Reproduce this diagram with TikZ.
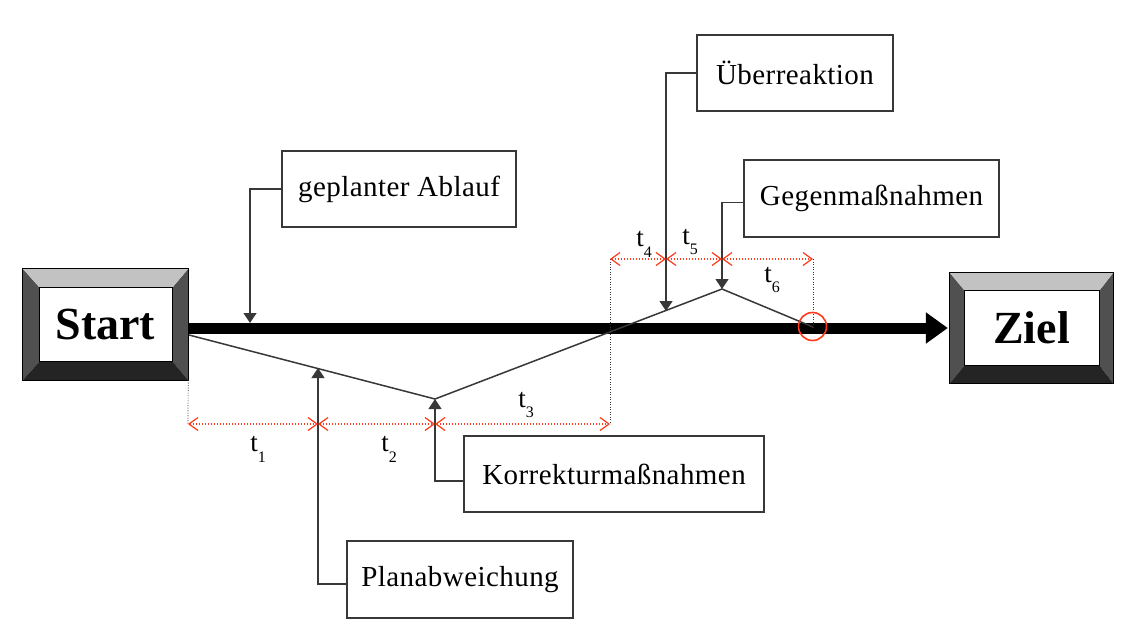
\documentclass[tikz,border=0pt]{standalone}
\usepackage{fontspec}
\setmainfont{Liberation Serif}
\newfontfamily\boxfont[LetterSpace=1.5]{Liberation Serif}
\usetikzlibrary{arrows.meta,calc}
\definecolor{redd}{HTML}{FF3A1A}
\definecolor{bevtopc}{HTML}{C2C2C2}
\definecolor{bevsidec}{HTML}{505050}
\definecolor{bevbotc}{HTML}{242424}
\definecolor{linec}{HTML}{383838}
\newcommand\mybevel[5]{%
 \fill[bevsidec] (#1.north west) -- ($(#1.north west)+(#2,#4)$) -- ($(#1.south west)+(#2,-#5)$) -- (#1.south west) -- cycle;
 \fill[bevsidec] (#1.north east) -- ($(#1.north east)+(-#3,#4)$) -- ($(#1.south east)+(-#3,-#5)$) -- (#1.south east) -- cycle;
 \fill[bevtopc] (#1.north west) -- (#1.north east) -- ($(#1.north east)+(-#3,#4)$) -- ($(#1.north west)+(#2,#4)$) -- cycle;
 \fill[bevbotc] (#1.south west) -- (#1.south east) -- ($(#1.south east)+(-#3,-#5)$) -- ($(#1.south west)+(#2,-#5)$) -- cycle;
 \draw[line width=1pt] (#1.north west) rectangle (#1.south east);
 \draw[line width=0.8pt] ($(#1.north west)+(#2,#4)$) rectangle ($(#1.south east)+(-#3,-#5)$);
}
\newcommand\tlab[1]{t\raisebox{-0.4em}{\fontsize{16}{16}\selectfont #1}}
\begin{document}
\begin{tikzpicture}[x=1pt,y=-1pt,
  bevelnode/.style={rectangle, fill=white, inner sep=0pt, font=\fontsize{46}{46}\selectfont\bfseries},
  lbox/.style={rectangle, draw=linec, line width=1.2pt, fill=white, inner sep=0pt, font=\boxfont\fontsize{29}{29}\selectfont},
  conn/.style={draw=linec, line width=1.3pt, -{Triangle[length=10pt,width=13pt]}},
  devline/.style={draw=linec, line width=1.5pt},
  dimline/.style={draw=redd, line width=1.3pt, dash pattern=on 1.5pt off 1.5pt, {Straight Barb[length=9pt,width=13pt,line width=1.2pt]}-{Straight Barb[length=9pt,width=13pt,line width=1.2pt]}},
  guide/.style={draw=black!80, line width=0.7pt, dash pattern=on 1pt off 1.5pt},
  tl/.style={inner sep=0pt, font=\fontsize{27}{27}\selectfont}
]
\useasboundingbox (0,0) rectangle (1135,629);
\fill[white] (0,0) rectangle (1135,629);

% bevel boxes
\node[bevelnode, minimum width=165pt, minimum height=111pt] (Start) at (105.5,324.5) {Start};
\mybevel{Start}{17}{16}{19}{19}
\node[bevelnode, minimum width=163pt, minimum height=110pt] (Ziel) at (1031.5,328) {Ziel};
\mybevel{Ziel}{15}{14}{18}{18}

% label boxes
\node[lbox, minimum width=234pt, minimum height=76pt] (ga) at (399,189) {geplanter Ablauf};
\node[lbox, minimum width=196pt, minimum height=76pt] (ue) at (795,73) {Überreaktion};
\node[lbox, minimum width=255pt, minimum height=77pt] (gm) at (871.5,198.5) {Gegenmaßnahmen};
\node[lbox, minimum width=300pt, minimum height=76pt] (km) at (614,474) {Korrekturmaßnahmen};
\node[lbox, minimum width=226pt, minimum height=77pt] (pa) at (460,579.5) {Planabweichung};

% coordinates
\coordinate (dev0) at (189,335);
\coordinate (devA) at (318,368);
\coordinate (devB) at (435,399);
\coordinate (devC) at (666,311);
\coordinate (devD) at (722,289);
\coordinate (devE) at (813,327);
\coordinate (tipGA) at (250,323);

% main thick arrow
\draw[line width=11pt, -{Triangle[length=22pt,width=30pt]}, shorten >=2pt] (Start.east |- Ziel.west) -- (Ziel.west);

% deviation path
\draw[devline] (dev0) -- (devB) -- (devD) -- (devE);

% connectors
\draw[conn] (ga.west) -| (tipGA);
\draw[conn] (ue.west) -| (devC);
\draw[conn] ([yshift=-4pt]gm.west) -| (devD);
\draw[conn] ([yshift=-7pt]km.west) -| (devB);
\draw[conn] ([yshift=-4.5pt]pa.west) -| (devA);

% guides and dimensions
\coordinate (r0) at (188,424);
\coordinate (r1) at (318,424);
\coordinate (r2) at (435,424);
\coordinate (r3) at (610,424);
\coordinate (s0) at (610,259);
\coordinate (s1) at (666,259);
\coordinate (s2) at (722,259);
\coordinate (s3) at (813,259);
\draw[guide] (Start.south east) -- (r0);
\draw[guide] (s0) -- (r3);
\draw[guide] (s3) -- (devE);
\draw[dimline] (r0) -- (r1);
\draw[dimline] (r1) -- (r2);
\draw[dimline] (r2) -- (r3);
\draw[dimline] (s0) -- (s1);
\draw[dimline] (s1) -- (s2);
\draw[dimline] (s2) -- (s3);

% red circle
\node[draw=redd, line width=1.6pt, circle, minimum size=28pt, inner sep=0pt] (circ) at (812.5,326.5) {};

% time labels
\node[tl] (t1) at (258,449) {\tlab{1}};
\node[tl] (t2) at (389,449) {\tlab{2}};
\node[tl] (t3) at (526,405) {\tlab{3}};
\node[tl] (t4) at (644,244) {\tlab{4}};
\node[tl] (t5) at (690,242) {\tlab{5}};
\node[tl] (t6) at (772,280) {\tlab{6}};
\end{tikzpicture}
\end{document}
